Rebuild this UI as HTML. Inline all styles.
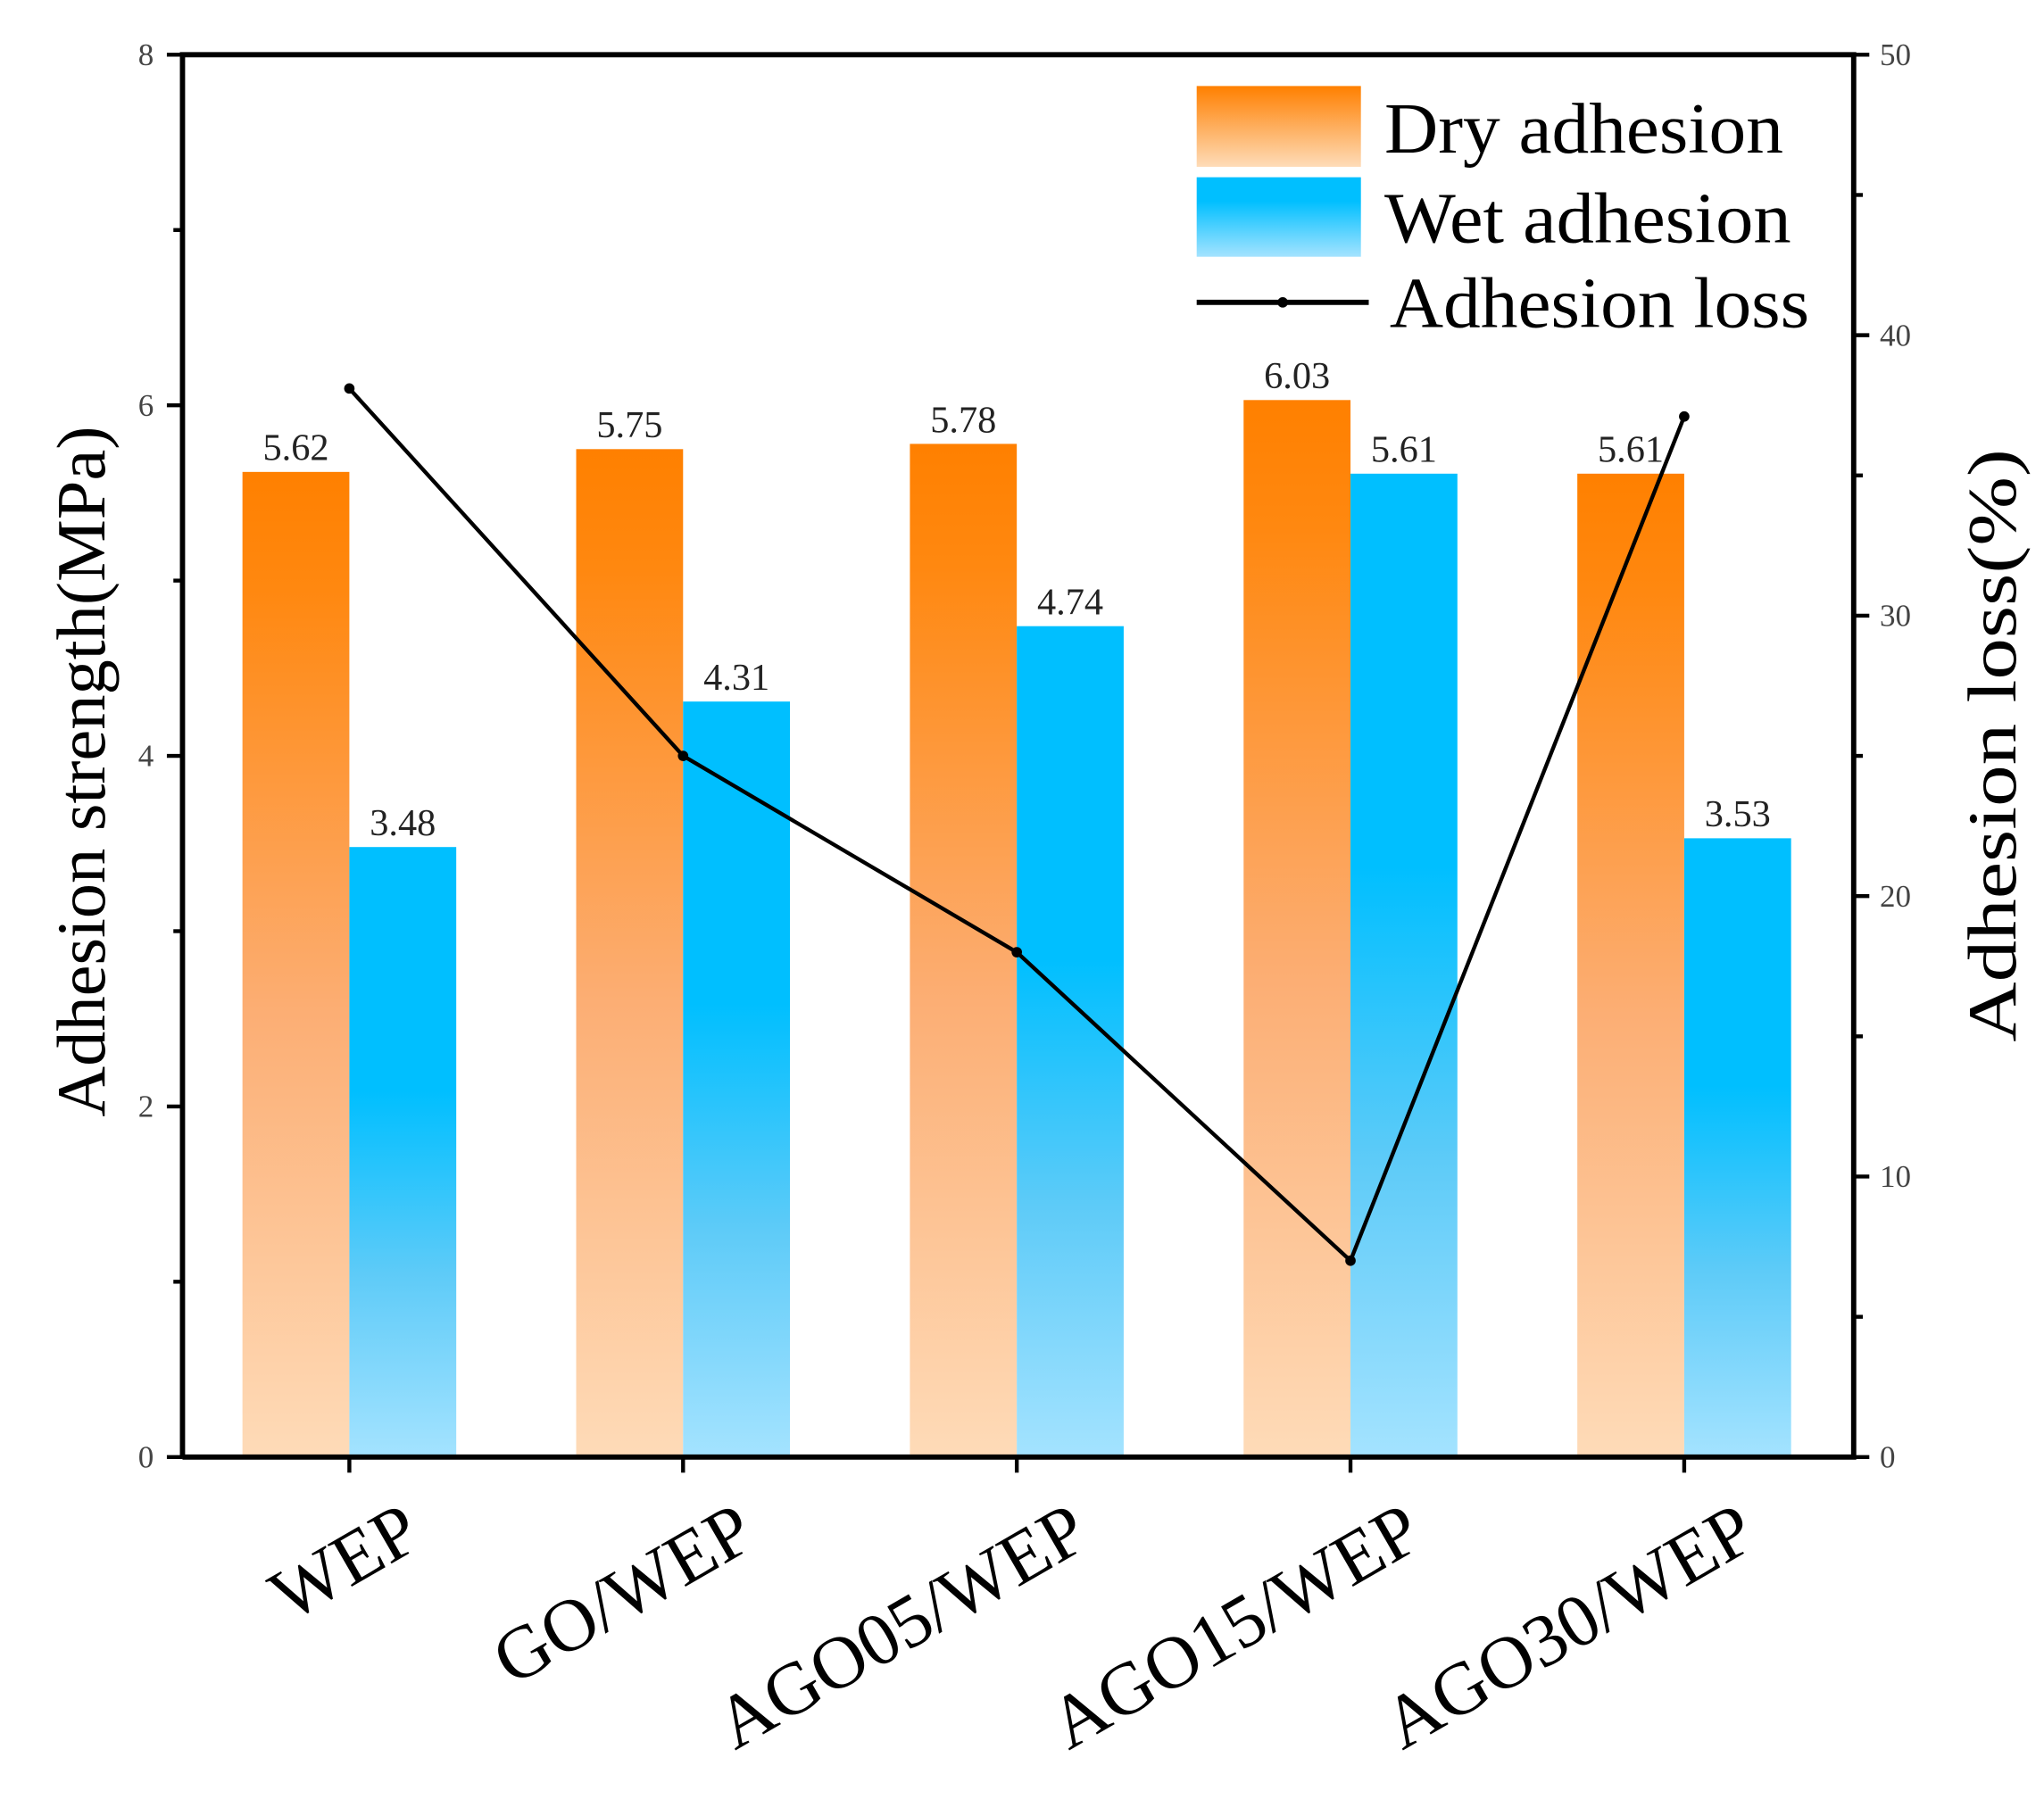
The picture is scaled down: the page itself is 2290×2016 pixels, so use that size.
<!DOCTYPE html>
<html><head><meta charset="utf-8"><style>
html,body{margin:0;padding:0;background:#fff}
svg{display:block}
text{font-family:"Liberation Serif",serif}
</style></head><body>
<svg id="chart" width="2290" height="2016" viewBox="0 0 1568 1380.4" preserveAspectRatio="none" xmlns="http://www.w3.org/2000/svg">
<defs>
<linearGradient id="gOr" x1="0" y1="0" x2="0" y2="1">
<stop offset="0" stop-color="#ff8000"/><stop offset="0.12" stop-color="#ff8810"/><stop offset="0.55" stop-color="#fcae74"/><stop offset="1" stop-color="#fedbb8"/>
</linearGradient>
<linearGradient id="gBl" x1="0" y1="0" x2="0" y2="1">
<stop offset="0" stop-color="#00bfff"/><stop offset="0.4" stop-color="#00bfff"/><stop offset="0.7" stop-color="#5ecbf8"/><stop offset="1" stop-color="#a4e3ff"/>
</linearGradient>
<linearGradient id="gOrL" x1="0" y1="0" x2="0" y2="1">
<stop offset="0" stop-color="#ff8000"/><stop offset="1" stop-color="#fedbb8"/>
</linearGradient>
<linearGradient id="gBlL" x1="0" y1="0" x2="0" y2="1">
<stop offset="0" stop-color="#00bfff"/><stop offset="0.3" stop-color="#00bfff"/><stop offset="1" stop-color="#a4e3ff"/>
</linearGradient>
</defs>
<g id="bars"></g>
<g id="line"></g>
<g id="axes"></g>
<g id="legend">
<rect x="918" y="66" width="126" height="62" fill="url(#gOrL)"/>
<text x="1062" y="117" font-size="55" textLength="306" lengthAdjust="spacingAndGlyphs">Dry adhesion</text>
<rect x="918" y="136" width="126" height="61" fill="url(#gBlL)"/>
<text x="1062" y="186" font-size="55" textLength="312" lengthAdjust="spacingAndGlyphs">Wet adhesion</text>
<line x1="918" y1="232" x2="1050" y2="232" stroke="#000" stroke-width="4"/>
<circle cx="984" cy="232" r="4" fill="#000"/>
<text x="1066" y="251" font-size="55" textLength="322" lengthAdjust="spacingAndGlyphs">Adhesion loss</text>
</g>
<text transform="translate(80,592) rotate(-90)" text-anchor="middle" font-size="53" textLength="530" lengthAdjust="spacingAndGlyphs">Adhesion strength(MPa)</text>
<text transform="translate(1546,572) rotate(-90)" text-anchor="middle" font-size="53" textLength="455" lengthAdjust="spacingAndGlyphs">Adhesion loss(%)</text>
</svg>
<script>
const categories = ["WEP","GO/WEP","AGO05/WEP","AGO15/WEP","AGO30/WEP"];
const dryValues = [5.62,5.75,5.78,6.03,5.61];
const wetValues = [3.48,4.31,4.74,5.61,3.53];
const lossValues = [38.1,25.0,18.0,7.0,37.1];
const leftTicks = [0,2,4,6,8];
const rightTicks = [0,10,20,30,40,50];

const NS = "http://www.w3.org/2000/svg";
const L = 140, R = 1422, T = 42, B = 1118;
const yL = v => B - (v/8)*(B-T);
const yR = v => B - (v/50)*(B-T);
const xC = i => 268 + i*256;
const BW = 82;
function mk(tag, attrs, parent){const e=document.createElementNS(NS,tag);for(const k in attrs)e.setAttribute(k,attrs[k]);parent.appendChild(e);return e;}
const bars=document.getElementById('bars'), lineG=document.getElementById('line'), axes=document.getElementById('axes');

categories.forEach((c,i)=>{
  const d = mk('rect',{x:xC(i)-BW,y:yL(dryValues[i]),width:BW,height:B-yL(dryValues[i]),fill:'url(#gOr)'},bars);
  
  
  const w = mk('rect',{x:xC(i),y:yL(wetValues[i]),width:BW,height:B-yL(wetValues[i]),fill:'url(#gBl)'},bars);
  
  
  const dl = mk('text',{x:xC(i)-BW/2,y:yL(dryValues[i])-9,'text-anchor':'middle','font-size':29,fill:'#222'},bars);
  dl.textContent = dryValues[i].toFixed(2);
  
  
  const wl = mk('text',{x:xC(i)+BW/2,y:yL(wetValues[i])-9,'text-anchor':'middle','font-size':29,fill:'#222'},bars);
  wl.textContent = wetValues[i].toFixed(2);
  
  
  const xl = mk('text',{transform:`translate(${xC(i)+58},${1185}) rotate(-30)`,'text-anchor':'end','font-size':57},axes);
  xl.textContent = c;
  
  
  const xt = mk('line',{x1:xC(i),y1:B,x2:xC(i),y2:B+12,stroke:'#000','stroke-width':3},axes);
  
  
});

const pts = lossValues.map((v,i)=>xC(i)+','+yR(v)).join(' ');
const pl = mk('polyline',{points:pts,fill:'none',stroke:'#000','stroke-width':3},lineG);


lossValues.forEach((v,i)=>{
  const p = mk('circle',{cx:xC(i),cy:yR(v),r:4,fill:'#000'},lineG);
  
  
});

const frame = mk('path',{d:`M${L},${B} L${L},${T} L${R},${T} L${R},${B} L${L},${B}`,fill:'none',stroke:'#000','stroke-width':4},axes);



for(let v=1; v<8; v+=2){
  const m = mk('line',{x1:L-7,y1:yL(v),x2:L,y2:yL(v),stroke:'#000','stroke-width':3},axes);
  
  
}
leftTicks.forEach(v=>{
  const t = mk('line',{x1:L-12,y1:yL(v),x2:L,y2:yL(v),stroke:'#000','stroke-width':3},axes);
  
  
  const tl = mk('text',{x:L-22,y:yL(v)+8,'text-anchor':'end','font-size':24,fill:'#444'},axes);
  tl.textContent = v;
  
  
});
for(let v=5; v<50; v+=10){
  const m = mk('line',{x1:R,y1:yR(v),x2:R+7,y2:yR(v),stroke:'#000','stroke-width':3},axes);
  
  
}
rightTicks.forEach(v=>{
  const t = mk('line',{x1:R,y1:yR(v),x2:R+12,y2:yR(v),stroke:'#000','stroke-width':3},axes);
  
  
  const tl = mk('text',{x:R+20,y:yR(v)+8,'text-anchor':'start','font-size':24,fill:'#444'},axes);
  tl.textContent = v;
  
  
});
</script>
</body></html>
